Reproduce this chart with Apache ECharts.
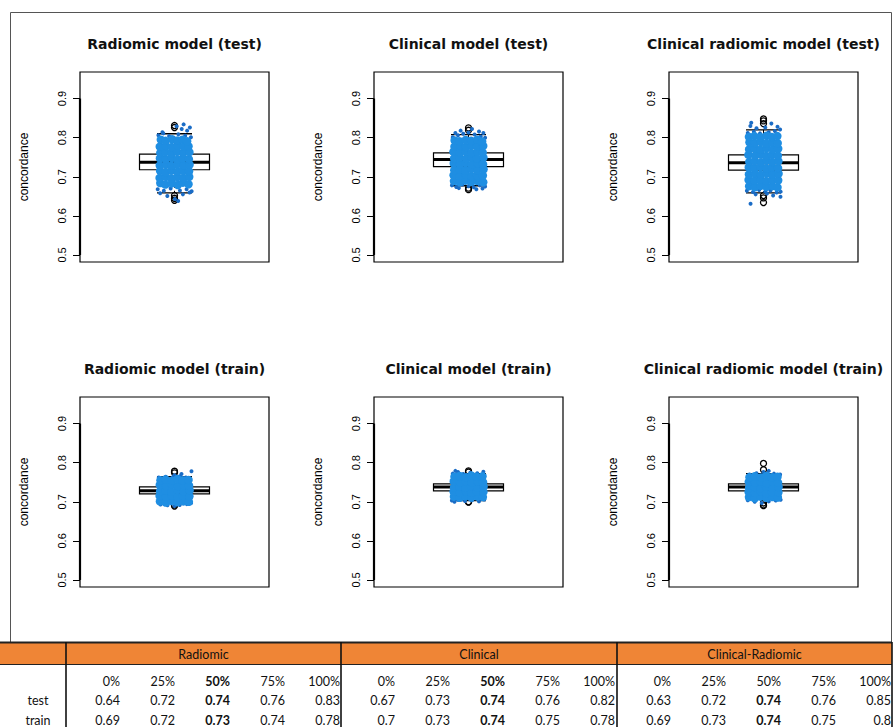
<!DOCTYPE html>
<html>
<head>
<meta charset="utf-8">
<script src="https://cdn.jsdelivr.net/npm/echarts@6/dist/echarts.min.js"></script>
<style>html,body{margin:0;padding:0;background:#fff}#c{width:894px;height:727px}</style>
</head>
<body>
<div id="c"></div>
<script>
// ---------------- DATA ----------------
const panelTitles = ['Radiomic model (test)', 'Clinical model (test)', 'Clinical radiomic model (test)',
                     'Radiomic model (train)', 'Clinical model (train)', 'Clinical radiomic model (train)'];
const yAxisName = 'concordance';
const yTicks = [0.5, 0.6, 0.7, 0.8, 0.9];
const yRange = [0.482, 0.968];

// box statistics: [lower whisker, Q1, median, Q3, upper whisker]
const boxRadiomicTest  = [0.659, 0.718, 0.737, 0.758, 0.810];
const boxClinicalTest  = [0.677, 0.726, 0.744, 0.761, 0.808];
const boxCombinedTest  = [0.659, 0.717, 0.736, 0.756, 0.820];
const boxRadiomicTrain = [0.697, 0.720, 0.728, 0.738, 0.764];
const boxClinicalTrain = [0.703, 0.728, 0.738, 0.746, 0.772];
const boxCombinedTrain = [0.707, 0.728, 0.738, 0.746, 0.772];

// outliers
const outRadiomicTest  = [0.831, 0.826, 0.652, 0.645, 0.640];
const outClinicalTest  = [0.825, 0.819, 0.667, 0.671];
const outCombinedTest  = [0.848, 0.843, 0.836, 0.652, 0.646, 0.634];
const outRadiomicTrain = [0.778, 0.774, 0.692, 0.689];
const outClinicalTrain = [0.779, 0.776, 0.699, 0.700];
const outCombinedTrain = [0.798, 0.782, 0.697, 0.692, 0.690];

// jittered concordance points: [jitter, concordance] (dense core and sparse tails)
const ptsRadiomicTest = [
 [-0.081,0.684],[-0.052,0.680],[-0.015,0.683],[0.019,0.679],[0.048,0.685],[0.080,0.681],
 [-0.085,0.697],[-0.049,0.700],[-0.019,0.696],[0.015,0.699],[0.052,0.697],[0.084,0.700],
 [-0.082,0.715],[-0.051,0.712],[-0.016,0.716],[0.018,0.713],[0.049,0.715],[0.083,0.714],
 [-0.084,0.729],[-0.048,0.731],[-0.018,0.728],[0.016,0.732],[0.051,0.729],[0.086,0.731],
 [-0.083,0.747],[-0.050,0.745],[-0.015,0.748],[0.019,0.744],[0.047,0.747],[0.082,0.745],
 [-0.081,0.761],[-0.053,0.763],[-0.017,0.760],[0.015,0.764],[0.050,0.761],[0.085,0.763],
 [-0.084,0.777],[-0.049,0.779],[-0.016,0.776],[0.018,0.780],[0.052,0.777],[0.080,0.778],
 [-0.078,0.795],[-0.051,0.792],[-0.014,0.796],[0.017,0.793],[0.046,0.795],[0.072,0.791]];
const tailRadiomicTest = [
 [-0.092,0.806],[-0.064,0.811],[-0.031,0.804],[0.022,0.809],[0.061,0.805],[0.094,0.801],
 [0.041,0.822],[0.072,0.818],[-0.069,0.814],[0.012,0.829],[0.052,0.834],[0.088,0.826],
 [-0.096,0.668],[-0.061,0.664],[-0.022,0.670],[0.031,0.665],[0.069,0.668],[0.098,0.663],
 [-0.082,0.658],[0.048,0.655],[0.086,0.660],[-0.041,0.651],[0.002,0.643],[0.021,0.638]];

const ptsClinicalTest = [
 [-0.083,0.689],[-0.050,0.686],[-0.017,0.690],[0.016,0.687],[0.051,0.689],[0.084,0.686],
 [-0.085,0.704],[-0.049,0.702],[-0.015,0.705],[0.018,0.701],[0.048,0.704],[0.082,0.703],
 [-0.081,0.717],[-0.052,0.719],[-0.018,0.716],[0.015,0.720],[0.050,0.717],[0.086,0.719],
 [-0.084,0.734],[-0.048,0.732],[-0.016,0.735],[0.019,0.731],[0.052,0.734],[0.083,0.732],
 [-0.082,0.747],[-0.051,0.749],[-0.014,0.746],[0.017,0.750],[0.047,0.747],[0.085,0.749],
 [-0.086,0.764],[-0.050,0.762],[-0.017,0.765],[0.016,0.761],[0.053,0.764],[0.081,0.762],
 [-0.080,0.777],[-0.047,0.779],[-0.015,0.776],[0.018,0.780],[0.049,0.777],[0.084,0.779],
 [-0.079,0.793],[-0.052,0.791],[-0.016,0.794],[0.015,0.792],[0.050,0.795],[0.078,0.790]];
const tailClinicalTest = [
 [-0.090,0.801],[-0.060,0.806],[-0.030,0.810],[0.000,0.813],[0.035,0.808],[0.070,0.803],
 [0.095,0.800],[-0.045,0.818],[0.020,0.822],[0.060,0.816],[0.085,0.812],[-0.075,0.812],
 [-0.095,0.678],[-0.070,0.674],[-0.035,0.680],[0.000,0.676],[0.030,0.673],[0.065,0.678],
 [0.095,0.675],[-0.055,0.671],[0.080,0.670],[0.045,0.668]];

const ptsCombinedTest = [
 [-0.082,0.676],[-0.049,0.673],[-0.016,0.677],[0.017,0.674],[0.050,0.676],[0.080,0.673],
 [-0.085,0.692],[-0.051,0.690],[-0.018,0.693],[0.015,0.689],[0.048,0.692],[0.084,0.691],
 [-0.083,0.706],[-0.048,0.708],[-0.015,0.705],[0.019,0.709],[0.052,0.706],[0.086,0.708],
 [-0.084,0.724],[-0.052,0.722],[-0.017,0.725],[0.016,0.721],[0.049,0.724],[0.083,0.722],
 [-0.081,0.738],[-0.050,0.740],[-0.014,0.737],[0.018,0.741],[0.051,0.738],[0.085,0.740],
 [-0.086,0.756],[-0.047,0.754],[-0.016,0.757],[0.015,0.753],[0.048,0.756],[0.082,0.754],
 [-0.082,0.770],[-0.051,0.772],[-0.018,0.769],[0.017,0.773],[0.053,0.770],[0.084,0.772],
 [-0.080,0.788],[-0.049,0.786],[-0.015,0.789],[0.016,0.785],[0.050,0.788],[0.081,0.786],
 [-0.083,0.802],[-0.052,0.804],[-0.017,0.801],[0.018,0.805],[0.047,0.802],[0.079,0.804]];
const tailCombinedTest = [
 [-0.090,0.812],[-0.055,0.815],[-0.020,0.811],[0.030,0.814],[0.065,0.817],[0.095,0.821],
 [-0.075,0.830],[-0.040,0.824],[0.010,0.826],[0.045,0.836],[-0.070,0.838],[0.080,0.828],
 [-0.095,0.664],[-0.060,0.661],[-0.025,0.666],[0.010,0.662],[0.040,0.665],[0.075,0.660],
 [0.098,0.662],[-0.045,0.655],[0.055,0.652],[0.097,0.649],[-0.074,0.631],[0.020,0.657]];

const ptsRadiomicTrain = [
 [-0.083,0.701],[-0.050,0.698],[-0.017,0.702],[0.016,0.699],[0.051,0.701],[0.082,0.700],
 [-0.085,0.715],[-0.049,0.713],[-0.015,0.716],[0.018,0.712],[0.048,0.715],[0.085,0.714],
 [-0.082,0.727],[-0.052,0.729],[-0.018,0.726],[0.015,0.730],[0.050,0.727],[0.086,0.729],
 [-0.084,0.743],[-0.048,0.741],[-0.016,0.744],[0.019,0.740],[0.052,0.743],[0.083,0.741],
 [-0.080,0.755],[-0.051,0.757],[-0.014,0.754],[0.017,0.758],[0.047,0.755],[0.080,0.756]];
const tailRadiomicTrain = [
 [-0.090,0.762],[-0.050,0.764],[-0.010,0.763],[0.030,0.765],[0.065,0.762],[0.040,0.771],
 [0.097,0.778],[0.000,0.768],[-0.080,0.693],[-0.040,0.691],[0.000,0.689],[0.030,0.692],
 [0.070,0.694],[0.095,0.697]];

const ptsClinicalTrain = [
 [-0.083,0.713],[-0.050,0.710],[-0.017,0.714],[0.016,0.711],[0.051,0.713],[0.082,0.712],
 [-0.085,0.726],[-0.049,0.724],[-0.015,0.727],[0.018,0.723],[0.048,0.726],[0.085,0.725],
 [-0.082,0.737],[-0.052,0.739],[-0.018,0.736],[0.015,0.740],[0.050,0.737],[0.086,0.739],
 [-0.084,0.752],[-0.048,0.750],[-0.016,0.753],[0.019,0.749],[0.052,0.752],[0.083,0.750],
 [-0.080,0.764],[-0.051,0.766],[-0.014,0.763],[0.017,0.767],[0.047,0.764],[0.080,0.765]];
const tailClinicalTrain = [
 [-0.090,0.772],[-0.060,0.776],[-0.030,0.771],[0.010,0.774],[0.050,0.773],[0.085,0.777],
 [-0.075,0.779],[-0.095,0.703],[-0.060,0.705],[-0.020,0.702],[0.020,0.704],[0.060,0.701],
 [0.090,0.706],[-0.080,0.700]];

const ptsCombinedTrain = [
 [-0.083,0.712],[-0.050,0.709],[-0.017,0.713],[0.016,0.710],[0.051,0.712],[0.082,0.711],
 [-0.085,0.725],[-0.049,0.723],[-0.015,0.726],[0.018,0.722],[0.048,0.725],[0.085,0.724],
 [-0.082,0.736],[-0.052,0.738],[-0.018,0.735],[0.015,0.739],[0.050,0.736],[0.086,0.738],
 [-0.084,0.751],[-0.048,0.749],[-0.016,0.752],[0.019,0.748],[0.052,0.751],[0.083,0.749],
 [-0.080,0.763],[-0.051,0.765],[-0.014,0.762],[0.017,0.766],[0.047,0.763],[0.080,0.764]];
const tailCombinedTrain = [
 [-0.080,0.770],[-0.040,0.773],[0.000,0.776],[0.030,0.779],[0.060,0.772],[0.095,0.770],
 [-0.090,0.704],[-0.050,0.700],[-0.010,0.697],[0.030,0.701],[0.070,0.703],[0.098,0.705]];

// summary table
const tableGroups = ['Radiomic', 'Clinical', 'Clinical-Radiomic'];
const tableQuantiles = ['0%', '25%', '50%', '75%', '100%'];
const tableRowLabels = ['test', 'train'];
const radiomicTestQ  = [0.64, 0.72, 0.74, 0.76, 0.83];
const radiomicTrainQ = [0.69, 0.72, 0.73, 0.74, 0.78];
const clinicalTestQ  = [0.67, 0.73, 0.74, 0.76, 0.82];
const clinicalTrainQ = [0.7, 0.73, 0.74, 0.75, 0.78];
const combinedTestQ  = [0.63, 0.72, 0.74, 0.76, 0.85];
const combinedTrainQ = [0.69, 0.73, 0.74, 0.75, 0.8];
const boldMedianHeader = [true, true, false];

// ---------------- LAYOUT ----------------
const panels = [
  {box: boxRadiomicTest,  out: outRadiomicTest,  pts: ptsRadiomicTest,  tail: tailRadiomicTest},
  {box: boxClinicalTest,  out: outClinicalTest,  pts: ptsClinicalTest,  tail: tailClinicalTest},
  {box: boxCombinedTest,  out: outCombinedTest,  pts: ptsCombinedTest,  tail: tailCombinedTest},
  {box: boxRadiomicTrain, out: outRadiomicTrain, pts: ptsRadiomicTrain, tail: tailRadiomicTrain},
  {box: boxClinicalTrain, out: outClinicalTrain, pts: ptsClinicalTrain, tail: tailClinicalTrain},
  {box: boxCombinedTrain, out: outCombinedTrain, pts: ptsCombinedTrain, tail: tailCombinedTrain}
];
const PANEL_LEFT = [80, 374, 669];
const PANEL_TOP = [72, 397];
const PANEL_W = 189, PANEL_H = 190;
const TITLE_Y = [44, 369];
const X_RANGE = [0.46, 1.54];
const X_POS = 1;
const BOX_HALF = 0.2, STAPLE_HALF = 0.1;

const BLUE = '#1f8ee2', BLUE_DARK = '#1a6cc6';

function renderBox(params, api) {
  const x = api.value(0);
  const lo = api.value(1), q1 = api.value(2), md = api.value(3), q3 = api.value(4), hi = api.value(5);
  const a = api.coord([x - BOX_HALF, q3]), b = api.coord([x + BOX_HALF, q1]);
  const m0 = api.coord([x - BOX_HALF, md]), m1 = api.coord([x + BOX_HALF, md]);
  const cHi = api.coord([x, hi]), cQ3 = api.coord([x, q3]), cQ1 = api.coord([x, q1]), cLo = api.coord([x, lo]);
  const s0 = api.coord([x - STAPLE_HALF, hi]), s1 = api.coord([x + STAPLE_HALF, hi]);
  const t0 = api.coord([x - STAPLE_HALF, lo]), t1 = api.coord([x + STAPLE_HALF, lo]);
  const ln = (p, q, w, dash) => ({type: 'line', shape: {x1: p[0], y1: p[1], x2: q[0], y2: q[1]},
      style: {stroke: '#000', lineWidth: w, lineDash: dash || null}});
  return {type: 'group', children: [
    ln(cQ3, cHi, 1, [4, 3]), ln(cQ1, cLo, 1, [4, 3]),
    ln(s0, s1, 1.3), ln(t0, t1, 1.3),
    {type: 'rect', shape: {x: a[0], y: a[1], width: b[0] - a[0], height: b[1] - a[1]},
     style: {fill: '#fff', stroke: '#000', lineWidth: 1.2}},
    ln(m0, m1, 3)
  ]};
}
function renderAxisSeg(params, api) {
  const p = api.coord([api.value(0), api.value(1)]), q = api.coord([api.value(0), api.value(2)]);
  return {type: 'line', shape: {x1: p[0], y1: p[1], x2: q[0], y2: q[1]}, style: {stroke: '#000', lineWidth: 2.2}};
}

const grids = [], xAxes = [], yAxes = [], series = [], graphics = [];
panels.forEach((p, i) => {
  const col = i % 3, row = Math.floor(i / 3);
  grids.push({left: PANEL_LEFT[col], top: PANEL_TOP[row], width: PANEL_W, height: PANEL_H,
              show: true, borderColor: '#000', borderWidth: 1.2, backgroundColor: '#fff'});
  xAxes.push({gridIndex: i, type: 'value', min: X_RANGE[0], max: X_RANGE[1], show: false});
  yAxes.push({gridIndex: i, type: 'value', min: yRange[0], max: yRange[1],
    name: yAxisName, nameLocation: 'middle', nameGap: 50,
    nameTextStyle: {fontSize: 12, color: '#000', fontFamily: 'Liberation Sans'},
    axisLine: {show: false},
    axisTick: {show: true, length: 7, inside: false, customValues: yTicks, lineStyle: {color: '#000', width: 1}},
    axisLabel: {show: true, customValues: yTicks, rotate: 90, margin: 13, fontSize: 11, color: '#000',
                fontFamily: 'Liberation Sans', formatter: v => v.toFixed(1)},
    splitLine: {show: false}});
  series.push({type: 'custom', xAxisIndex: i, yAxisIndex: i, renderItem: renderBox, z: 1,
               data: [[X_POS].concat(p.box)], silent: true});
  series.push({type: 'scatter', xAxisIndex: i, yAxisIndex: i, z: 3, symbol: 'circle', symbolSize: 6,
               itemStyle: {color: 'rgba(0,0,0,0)', borderColor: '#000', borderWidth: 1.3, opacity: 1},
               data: p.out.map(v => [X_POS, v])});
  series.push({type: 'scatter', xAxisIndex: i, yAxisIndex: i, z: 4, symbol: 'circle', symbolSize: 4,
               itemStyle: {color: BLUE_DARK, opacity: 1}, data: p.tail.map(d => [X_POS + d[0], d[1]])});
  series.push({type: 'scatter', xAxisIndex: i, yAxisIndex: i, z: 4, symbol: 'circle', symbolSize: 8.5,
               itemStyle: {color: BLUE, opacity: 1}, data: p.pts.map(d => [X_POS + d[0], d[1]])});
  series.push({type: 'custom', xAxisIndex: i, yAxisIndex: i, renderItem: renderAxisSeg, z: 5, silent: true,
               data: [[X_RANGE[0], yTicks[0], yTicks[yTicks.length - 1]]]});
  graphics.push({type: 'text', x: PANEL_LEFT[col] + PANEL_W / 2, y: TITLE_Y[row],
    style: {text: panelTitles[i], font: 'bold 14px "DejaVu Sans"', fill: '#111',
            align: 'center', verticalAlign: 'middle', textAlign: 'center', textVerticalAlign: 'middle'}});
});

// outer frame
graphics.push({type: 'rect', shape: {x: 10.5, y: 12.5, width: 881, height: 630},
               style: {fill: 'none', stroke: '#555', lineWidth: 1}, z: -1});

// table
const T_TOP = 642, T_HEAD_H = 22, T_RIGHT = 892, GROUP_X = [66, 341, 617], COL_W = 55, ROW_Y = [681, 700, 720];
const T_FONT = '"Lato", "Open Sans", sans-serif';
graphics.push({type: 'rect', shape: {x: 0, y: T_TOP, width: T_RIGHT, height: T_HEAD_H}, style: {fill: '#ef8536'}});
graphics.push({type: 'line', shape: {x1: 0, y1: T_TOP + 0.5, x2: T_RIGHT, y2: T_TOP + 0.5}, style: {stroke: '#222', lineWidth: 2}});
graphics.push({type: 'line', shape: {x1: 0, y1: T_TOP + T_HEAD_H + 0.5, x2: T_RIGHT, y2: T_TOP + T_HEAD_H + 0.5}, style: {stroke: '#222', lineWidth: 1}});
GROUP_X.concat([T_RIGHT]).forEach(x => {
  graphics.push({type: 'line', shape: {x1: x, y1: T_TOP, x2: x, y2: 727}, style: {stroke: '#111', lineWidth: 1.6}});
});
const groupData = [[radiomicTestQ, radiomicTrainQ], [clinicalTestQ, clinicalTrainQ], [combinedTestQ, combinedTrainQ]];
const txt = (s, x, y, align, bold) => ({type: 'text', x: x, y: y, z: 10,
  style: {text: s, font: (bold ? 'bold ' : '') + '12.5px ' + T_FONT, fill: '#111',
          align: align, verticalAlign: 'middle', textAlign: align, textVerticalAlign: 'middle'}});
tableGroups.forEach((g, gi) => {
  const x0 = GROUP_X[gi], x1 = gi < 2 ? GROUP_X[gi + 1] : T_RIGHT;
  graphics.push(txt(g, (x0 + x1) / 2, T_TOP + T_HEAD_H / 2 + 1, 'center', false));
  tableQuantiles.forEach((q, k) => {
    const xr = x0 + COL_W * (k + 1) - 1;
    graphics.push(txt(q, xr, ROW_Y[0], 'right', k === 2 && boldMedianHeader[gi]));
    groupData[gi].forEach((vals, r) => {
      graphics.push(txt(String(vals[k]), xr, ROW_Y[r + 1], 'right', k === 2));
    });
  });
});
tableRowLabels.forEach((lab, r) => graphics.push(txt(lab, 38, ROW_Y[r + 1], 'center', false)));

const chart = echarts.init(document.getElementById('c'), null, {renderer: 'svg'});
chart.setOption({
  animation: false,
  backgroundColor: '#fff',
  textStyle: {fontFamily: 'Liberation Sans'},
  grid: grids, xAxis: xAxes, yAxis: yAxes, series: series, graphic: graphics
});
</script>
</body>
</html>
